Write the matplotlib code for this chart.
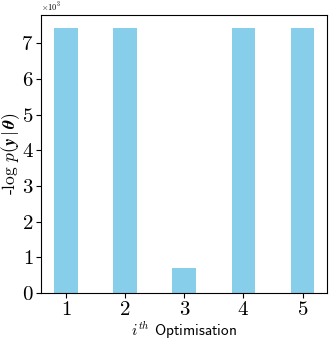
import matplotlib
matplotlib.use("Agg")
import matplotlib.pyplot as plt
from matplotlib.ticker import ScalarFormatter, MultipleLocator

plt.rcParams['mathtext.fontset'] = 'cm'
plt.rcParams['font.family'] = ['cmr10', 'DejaVu Serif']
plt.rcParams['axes.formatter.use_mathtext'] = True

runs = [1, 2, 3, 4, 5]
neg_log_lik = [7420, 7420, 690, 7420, 7420]

fig = plt.figure(figsize=(3.32, 3.42), dpi=100)
ax = fig.add_axes([0.124, 0.143, 0.862, 0.813])
ax.bar(runs, neg_log_lik, width=0.4, color='skyblue')
ax.set_xticks(runs)
ax.yaxis.set_major_locator(MultipleLocator(1000))
fmt = ScalarFormatter(useMathText=True)
fmt.set_powerlimits((0, 0))
ax.yaxis.set_major_formatter(fmt)
ax.tick_params(labelsize=15, length=3.5, pad=2)
ax.yaxis.get_offset_text().set_fontsize(6)
ax.set_xlabel(r'$i^{th}$ Optimisation', fontsize=11, family='cmss10', labelpad=1)
ax.set_ylabel(r'-log $p(\mathbfit{y}\,|\,\mathbfit{\theta})$', fontsize=12.5)
ax.yaxis.set_label_coords(-0.068, 0.5)
fig.savefig('out.png', dpi=100)
